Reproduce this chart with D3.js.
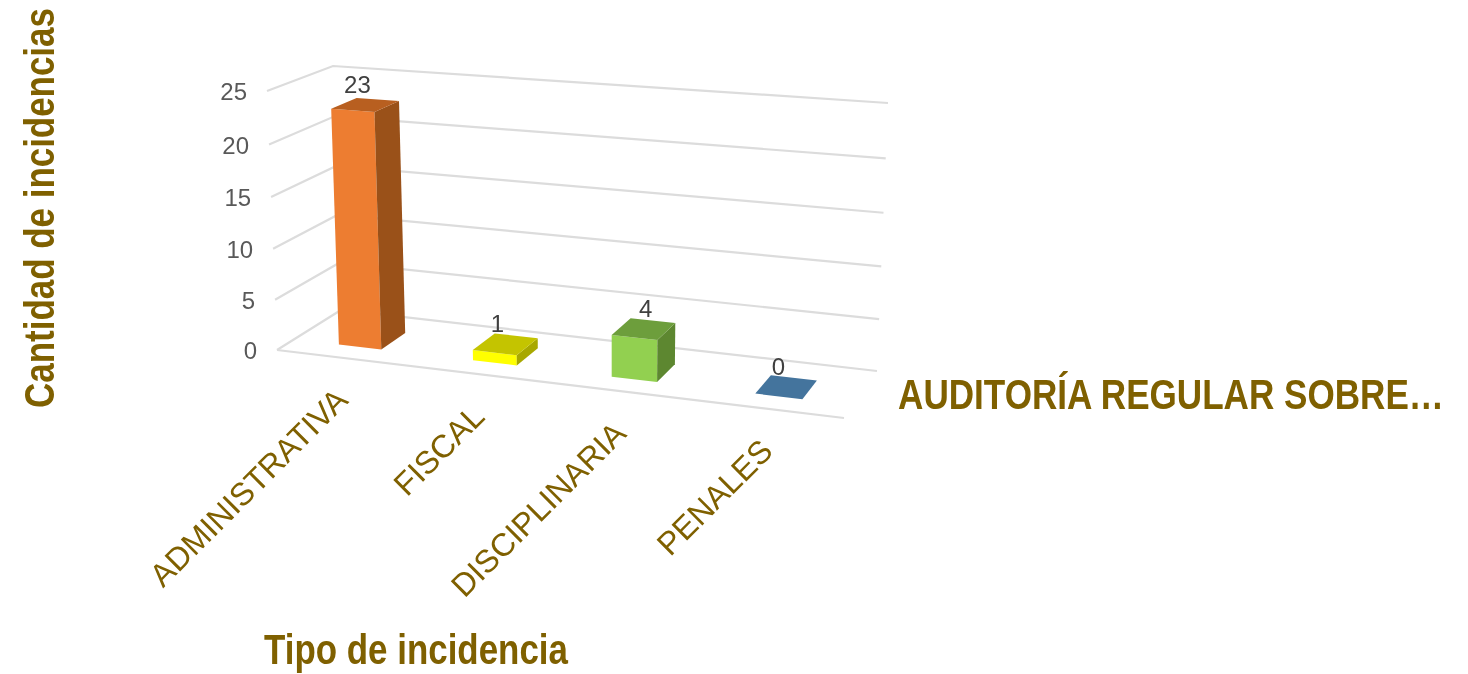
<!DOCTYPE html>
<html><head><meta charset="utf-8">
<script src="https://cdn.jsdelivr.net/npm/d3@7/dist/d3.min.js"></script>
<style>html,body{margin:0;padding:0;background:#fff;overflow:hidden}svg{display:block;filter:blur(0.5px)}</style>
</head><body><svg id="c" width="1468" height="674"></svg>
<script>
const categories = ["ADMINISTRATIVA","FISCAL","DISCIPLINARIA","PENALES"];
const values = [23,1,4,0];
const tickValues = [0,5,10,15,20,25];
const seriesName = "AUDITORÍA REGULAR SOBRE…";
const xTitle = "Tipo de incidencia";
const yTitle = "Cantidad de incidencias";
const frontColors = ["#ed7d31","#ffff00","#92d050","#44749d"];
const topColors = ["#b85f20","#c4c400","#6d9e3c","#44749d"];
const sideColors = ["#9a5119","#a8a800","#5d8730","#2f5373"];

function homography(q){
  const [p0,p1,p2,p3]=q;
  const dx1=p1[0]-p2[0],dx2=p3[0]-p2[0],sx=p0[0]-p1[0]+p2[0]-p3[0];
  const dy1=p1[1]-p2[1],dy2=p3[1]-p2[1],sy=p0[1]-p1[1]+p2[1]-p3[1];
  const den=dx1*dy2-dx2*dy1;
  const g=(sx*dy2-dx2*sy)/den,h=(dx1*sy-sx*dy1)/den;
  const a=p1[0]-p0[0]+g*p1[0],b=p3[0]-p0[0]+h*p3[0],c=p0[0];
  const d=p1[1]-p0[1]+g*p1[1],e=p3[1]-p0[1]+h*p3[1],f=p0[1];
  return (u,w)=>{const t=g*u+h*w+1;return [(a*u+b*w+c)/t,(d*u+e*w+f)/t];};
}
// chart box: front-left, front-right, back-right, back-left corners
const floorPlane = homography([[277,350],[844,418],[877,371],[341,310]]);
const topPlane = homography([[267,91],[856,133],[888,103],[333,66]]);
const vScale = d3.scaleLinear().domain([0,25]).range([0,1]);
const uScale = d3.scaleBand().domain(categories).range([0,1]).paddingInner(0.68).paddingOuter(0.34);
const wFront=0.26, wBack=0.66;
const depthK=0.04;
function P(u,w,v){
  const a=floorPlane(u,w),b=topPlane(u,w),s=vScale(v),t=s/(1+depthK*(1-s));
  return [a[0]+(b[0]-a[0])*t,a[1]+(b[1]-a[1])*t];
}
const svg=d3.select("#c");
const poly=pts=>pts.map(p=>p.map(n=>n.toFixed(1)).join(",")).join(" ");

const grid=svg.append("g").attr("stroke","#dcdcdc").attr("stroke-width",2.2).attr("fill","none");
const lineGen=d3.line();
tickValues.forEach(v=>{
  grid.append("path").attr("d",lineGen([P(0,0,v),P(0,1,v),P(1,1,v)]));
});
grid.append("path").attr("d",lineGen([P(0,0,0),P(1,0,0)]));

svg.append("g").selectAll("text").data(tickValues).join("text")
  .attr("x",v=>P(0,0,v)[0]-20).attr("y",v=>P(0,0,v)[1]+3)
  .attr("text-anchor","end").attr("dominant-baseline","middle")
  .attr("font-family","Liberation Sans").attr("font-size",24).attr("fill","#595959")
  .text(d=>d);

const rows=categories.map((c,i)=>({c,v:values[i],i}));
const bars=svg.append("g").selectAll("g").data(rows).join("g");
bars.each(function(d){
  const g=d3.select(this);
  const u0=uScale(d.c),u1=u0+uScale.bandwidth();
  if(d.v>0){
    g.append("polygon").attr("points",poly([P(u0,wFront,0),P(u1,wFront,0),P(u1,wFront,d.v),P(u0,wFront,d.v)])).attr("fill",frontColors[d.i]);
    g.append("polygon").attr("points",poly([P(u1,wFront,0),P(u1,wBack,0),P(u1,wBack,d.v),P(u1,wFront,d.v)])).attr("fill",sideColors[d.i]);
  }
  g.append("polygon").attr("points",poly([P(u0,wFront,d.v),P(u1,wFront,d.v),P(u1,wBack,d.v),P(u0,wBack,d.v)])).attr("fill",topColors[d.i]);
  const c=P((u0+u1)/2,(wFront+wBack)/2,d.v);
  const nudge = d.i===2 ? 10 : 0;   // the source chart sets this one label further right
  g.append("text").attr("x",c[0]-8+nudge).attr("y",c[1]-18)
    .attr("text-anchor","middle").attr("dominant-baseline","middle")
    .attr("font-family","Liberation Sans").attr("font-size",24).attr("fill","#404040").text(d.v);
});

svg.append("g").selectAll("text").data(rows).join("text")
  .attr("transform",d=>{const u=uScale(d.c)+uScale.bandwidth()/2,p=P(u,0,0);return `translate(${p[0]+6},${p[1]+44}) rotate(-45)`;})
  .attr("text-anchor","end")
  .attr("font-family","Liberation Sans").attr("font-size",32).attr("fill","#7f6000").text(d=>d.c);

function title(x,y,rot,t,len){
  const s=svg.append("text").attr("font-family","Liberation Sans").attr("font-weight","bold")
    .attr("font-size",43).attr("fill","#7f6000").attr("text-anchor","middle").text(t);
  const k=len/s.node().getComputedTextLength();
  s.attr("transform",`translate(${x},${y}) rotate(${rot}) scale(${k},1)`);
}
title(1171,409,0,seriesName,546);
title(416,664,0,xTitle,304);
title(54,208,-90,yTitle,400);
</script></body></html>
